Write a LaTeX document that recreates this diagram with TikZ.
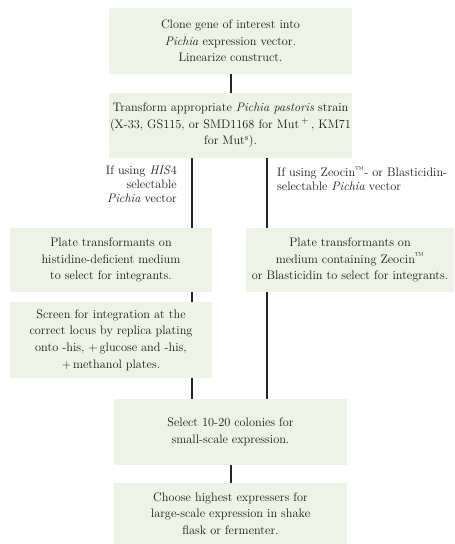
\documentclass[tikz,border=0pt]{standalone}
\usepackage{fontspec}
\begin{document}
\begin{tikzpicture}[x=1pt,y=-1pt,
  stepbox/.style={fill=boxgreen, draw=none, inner sep=0pt, align=center,
    font=\fontsize{12.3}{16.6}\selectfont, text=black!90},
  lbl/.style={inner sep=0pt, font=\fontsize{12.3}{13.6}\selectfont, text=black!90},
  link/.style={line width=1.6pt, draw=black!85}]
\definecolor{boxgreen}{HTML}{EEF4E5}
\useasboundingbox (0,0) rectangle (455,544);
\node[stepbox, minimum width=243pt, minimum height=66pt] (b1) at (230.5,41)
  {Clone gene of interest into\\ \textit{Pichia} expression vector.\\ Linearize construct.};
\node[stepbox, minimum width=243pt, minimum height=65pt] (b2) at (230.5,125.5)
  {Transform appropriate \textit{Pichia pastoris} strain\\ (X-33, GS115, or SMD1168 for Mut\,$^{+}$\,, KM71\\ for Mut\textsuperscript{s}).};
\node[stepbox, minimum width=202pt, minimum height=64pt] (b3) at (111,260)
  {Plate transformants on\\ histidine-deficient medium\\ to select for integrants.};
\node[stepbox, minimum width=208pt, minimum height=64pt] (bR) at (350,260)
  {Plate transformants on\\ medium containing Zeocin\textsuperscript{\texttrademark}\\ or Blasticidin to select for integrants.};
\node[stepbox, minimum width=202pt, minimum height=76pt] (b4) at (111,340)
  {Screen for integration at the\\ correct locus by replica plating\\ onto -his, $+$\,glucose and -his,\\ $+$\,methanol plates.};
\node[stepbox, minimum width=233pt, minimum height=66pt] (b5) at (230.5,432)
  {Select 10-20 colonies for\\ small-scale expression.};
\node[stepbox, minimum width=233pt, minimum height=61pt] (b6) at (230.5,513.5)
  {Choose highest expressers for\\ large-scale expression in shake\\ flask or fermenter.};
\node[lbl, anchor=north east, align=right] (lL) at (177,166)
  {If using \textit{HIS}4\\ selectable\\ \textit{Pichia} vector};
\node[lbl, anchor=north west, align=left] (lR) at (277,166)
  {If using Zeocin\textsuperscript{\texttrademark}- or Blasticidin-\\ selectable \textit{Pichia} vector};
\coordinate (cm) at (231,0);
\coordinate (cl) at (192,0);
\coordinate (cr) at (267,0);
\draw[link] (b1.south -| cm) -- (b2.north -| cm);
\draw[link] (b2.south -| cl) -- (b3.north -| cl);
\draw[link] (b3.south -| cl) -- (b4.north -| cl);
\draw[link] (b4.south -| cl) -- (b5.north -| cl);
\draw[link] (b2.south -| cr) -- (bR.north -| cr);
\draw[link] (bR.south -| cr) -- (b5.north -| cr);
\draw[link] (b5.south -| cm) -- (b6.north -| cm);
\end{tikzpicture}
\end{document}
